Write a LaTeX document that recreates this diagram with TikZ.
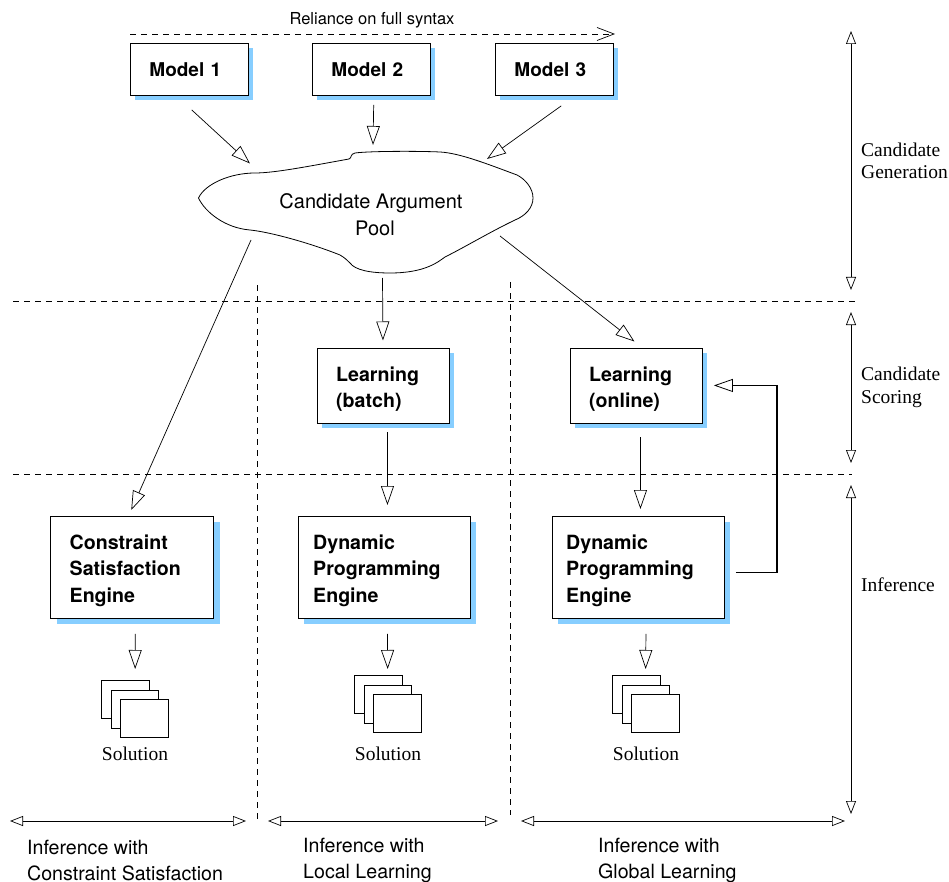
\documentclass[tikz,border=0pt]{standalone}
\usepackage{fontspec}
\setmainfont{TeX Gyre Heros}
\newfontfamily\serifface{Liberation Serif}
\usetikzlibrary{arrows.meta,calc}
\definecolor{shade}{HTML}{87CEFF}
\tikzset{
  x=1pt,y=-1pt,
  hollow/.tip={Triangle[open,length=19pt,width=13pt]},
  smallhollow/.tip={Triangle[open,length=13pt,width=10pt]},
  link/.style={draw=black,line width=0.7pt,-{hollow}},
  span/.style={draw=black,line width=0.7pt,{smallhollow}-{smallhollow}},
  divider/.style={draw=black,line width=0.7pt,dash pattern=on 6pt off 5pt},
  plainlabel/.style={font=\fontsize{19.6}{26}\selectfont,align=left,anchor=west,inner sep=0pt},
  sidelabel/.style={font=\serifface\fontsize{19.5}{22.5}\selectfont,align=left,anchor=west,inner sep=0pt},
  sheet/.style={draw=black,line width=0.8pt,fill=white,minimum width=47.5pt,minimum height=38pt,inner sep=0pt,anchor=north west},
  sollabel/.style={font=\serifface\fontsize{19.5}{22}\selectfont,inner sep=0pt},
  shadowed/.style={preaction={draw=none,fill=shade,transform canvas={xshift=#1,yshift=-#1}}},
  boxbase/.style={draw=black,line width=0.9pt,fill=white,anchor=north west,inner sep=0pt},
  modelbox/.style={boxbase,shadowed=4.7pt,align=left,minimum width=117.5pt,minimum height=52pt,text width=79.5pt,inner xsep=19pt,font=\bfseries\fontsize{19}{22}\selectfont},
  learnbox/.style={boxbase,shadowed=5pt,minimum width=132pt,minimum height=75pt},
  enginebox/.style={boxbase,shadowed=6pt,minimum width=172pt,minimum height=102pt},
  boxtext/.style={font=\bfseries\fontsize{19.6}{26.5}\selectfont,align=left,anchor=west,inner sep=0pt},
}
\begin{document}
\begin{tikzpicture}
\useasboundingbox (0,0) rectangle (949,882);
% dividers
\coordinate (hl1) at (13,301); \coordinate (hr1) at (857,301);
\coordinate (hl2) at (13,474); \coordinate (hr2) at (852,474);
\coordinate (vt1) at (257,285); \coordinate (vb1) at (257,820);
\coordinate (vt2) at (510,282); \coordinate (vb2) at (510,815);
\draw[divider] (hl1) -- (hr1);
\draw[divider] (hl2) -- (hr2);
\draw[divider] (vt1) -- (vb1);
\draw[divider] (vt2) -- (vb2);
% top dashed arrow
\node[font=\fontsize{16.5}{18}\selectfont,inner sep=0pt] (rel) at (372,20) {Reliance on full syntax};
\coordinate (rs) at (130,34); \coordinate (re) at (615,34);
\draw[line width=0.7pt,dash pattern=on 6pt off 5pt,-{Straight Barb[length=17pt,width=13pt,line width=0.7pt]}] (rs) -- (re);
% models
\node[modelbox] (m1) at (130,43) {Model 1};
\node[modelbox] (m2) at (312,43) {Model 2};
\node[modelbox] (m3) at (495,43) {Model 3};
% cloud
\draw[line width=0.8pt,fill=white] (198.5,198)
  .. controls (205,184) and (230,173) .. (255,173)
  .. controls (275,173) and (310,166) .. (349,159)
  .. controls (352,158) and (350,154) .. (355,153)
  .. controls (370,151) and (420,151) .. (440,152)
  .. controls (460,153) and (490,165) .. (517,175)
  .. controls (525,179) and (533,188) .. (533,198)
  .. controls (533,208) and (525,216) .. (515,220)
  .. controls (490,232) and (465,247) .. (445,257)
  .. controls (438,262) and (425,273) .. (390,273)
  .. controls (370,273) and (355,270) .. (350,263)
  .. controls (347,260) and (345,258) .. (340,255)
  .. controls (310,243) and (270,232) .. (250,230)
  .. controls (225,228) and (205,212) .. (198.5,198) -- cycle;
\node[font=\fontsize{20}{27}\selectfont,align=center,inner sep=0pt] (pool) at (371,214.5) {Candidate Argument\\\hspace*{8pt}Pool};
% boxes
\node[learnbox] (lb) at (317,347.5) {};
\node[learnbox] (lo) at (570,347.5) {};
\node[boxtext] (lbt) at (336,389) {Learning\\(batch)};
\node[boxtext] (lot) at (589,389) {Learning\\(online)};
\node[enginebox,minimum width=163pt] (cs) at (50.3,516) {};
\node[enginebox] (dp1) at (298,516) {};
\node[enginebox] (dp2) at (551.5,516) {};
\node[boxtext] (cst) at (69.5,570.5) {Constraint\\Satisfaction\\Engine};
\node[boxtext] (dp1t) at (313,570.5) {Dynamic\\Programming\\Engine};
\node[boxtext] (dp2t) at (566,570.5) {Dynamic\\Programming\\Engine};
% stacks
\node[sheet] (a1) at (101,680) {}; \node[sheet] (a2) at (110.5,689.5) {}; \node[sheet] (a3) at (120,699) {};
\node[sheet] (b1) at (354,675) {}; \node[sheet] (b2) at (363.5,684.5) {}; \node[sheet] (b3) at (373,694) {};
\node[sheet] (c1) at (612,675) {}; \node[sheet] (c2) at (621.5,684.5) {}; \node[sheet] (c3) at (631,694) {};
\node[sollabel] (sa) at (135,754) {Solution};
\node[sollabel] (sb) at (388,754) {Solution};
\node[sollabel] (sc) at (646,754) {Solution};
% connectors
\draw[link] ([shift={(2.5,14)}]m1.south) -- ([shift={(-121,-51)}]pool.center);
\draw[link] ([shift={(2.5,9)}]m2.south) -- ([shift={(2,-69.5)}]pool.center);
\draw[link] ([shift={(7,10)}]m3.south) -- ([shift={(116,-55.5)}]pool.center);
\draw[link] ([shift={(-120,25.5)}]pool.center) -- ([shift={(-1,-6)}]cs.north);
\draw[link] ([shift={(11.5,63.5)}]pool.center) -- ([shift={(-0.5,-7)}]lb.north);
\draw[link] ([shift={(129,21.5)}]pool.center) -- ([shift={(-2,-6)}]lo.north);
\draw[link] ([shift={(4,9)}]lb.south) -- ([shift={(3,-11)}]dp1.north);
\draw[link] ([shift={(4,14)}]lo.south) -- ([shift={(2.5,-7)}]dp2.north);
\draw[link] ([shift={(3,15)}]cs.south) -- ([shift={(10,-11)}]a1.north);
\draw[link] ([shift={(3,15)}]dp1.south) -- ([shift={(9.5,-6)}]b1.north);
\draw[link] ([shift={(8,15)}]dp2.south) -- ([shift={(9.5,-6)}]c1.north);
\draw[draw=black,line width=1.2pt,-{Triangle[open,length=19pt,width=13pt,line width=0.8pt]}] ([shift={(11.5,5)}]dp2.east) -| ([shift={(74,0)}]lo.east) -- ([xshift=11pt]lo.east);
% spans
\coordinate (g1) at (851,31); \coordinate (g2) at (851,290);
\coordinate (s1) at (851,312); \coordinate (s2) at (851,463);
\coordinate (i1) at (851,485); \coordinate (i2) at (851,814);
\draw[span] (g1) -- (g2);
\draw[span] (s1) -- (s2);
\draw[span] (i1) -- (i2);
\coordinate (b1l) at (10,821); \coordinate (b1r) at (246,821);
\coordinate (b2l) at (268,821); \coordinate (b2r) at (498,821);
\coordinate (b3l) at (521,821); \coordinate (b3r) at (845,821);
\draw[span] (b1l) -- (b1r);
\draw[span] (b2l) -- (b2r);
\draw[span] (b3l) -- (b3r);
% labels
\node[sidelabel] (t1) at (861,161) {Candidate\\Generation};
\node[sidelabel] (t2) at (861,387.5) {Candidate\\Scoring};
\node[sidelabel] (t3) at (861,585) {Inference};
\node[plainlabel] (t4) at (27,860) {Inference with\\Constraint Satisfaction};
\node[plainlabel] (t5) at (303,860) {Inference with\\Local Learning};
\node[plainlabel] (t6) at (598,860) {Inference with\\Global Learning};
\end{tikzpicture}
\end{document}
